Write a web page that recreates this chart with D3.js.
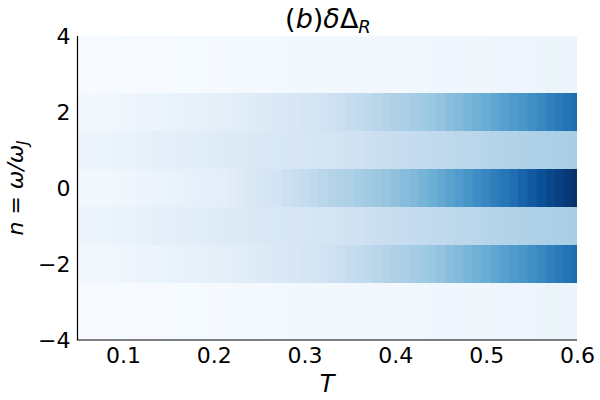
<!DOCTYPE html>
<html>
<head>
<meta charset="utf-8">
<script src="https://cdn.jsdelivr.net/npm/d3@7"></script>
<style>
  body { margin: 0; background: #fff; }
  text { font-family: "DejaVu Sans", sans-serif; }
</style>
</head>
<body>
<svg id="chart" width="600" height="400"></svg>
<script>
// temperature grid (cell centres)
var tValues = [0.05, 0.06, 0.07, 0.08, 0.09, 0.10, 0.11, 0.12, 0.13, 0.14,
  0.15, 0.16, 0.17, 0.18, 0.19, 0.20, 0.21, 0.22, 0.23, 0.24,
  0.25, 0.26, 0.27, 0.28, 0.29, 0.30, 0.31, 0.32, 0.33, 0.34,
  0.35, 0.36, 0.37, 0.38, 0.39, 0.40, 0.41, 0.42, 0.43, 0.44,
  0.45, 0.46, 0.47, 0.48, 0.49, 0.50, 0.51, 0.52, 0.53, 0.54,
  0.55, 0.56, 0.57, 0.58, 0.59, 0.60];

var nValues = [4, 3, 2, 1, 0, -1, -2, -3, -4];

// normalised intensity per row
var rowOuter = [0.000, 0.000, 0.001, 0.002, 0.002, 0.003, 0.004, 0.005, 0.005, 0.006,
  0.007, 0.008, 0.009, 0.010, 0.011, 0.012, 0.013, 0.014, 0.015, 0.016,
  0.017, 0.018, 0.019, 0.020, 0.021, 0.022, 0.023, 0.024, 0.025, 0.026,
  0.027, 0.028, 0.029, 0.030, 0.031, 0.032, 0.033, 0.034, 0.035, 0.036,
  0.037, 0.038, 0.039, 0.040, 0.041, 0.042, 0.043, 0.044, 0.045, 0.046,
  0.047, 0.048, 0.049, 0.050, 0.051, 0.052];

var rowOne = [0.050, 0.052, 0.056, 0.060, 0.064, 0.068, 0.072, 0.078, 0.084, 0.090,
  0.095, 0.100, 0.106, 0.111, 0.116, 0.121, 0.126, 0.131, 0.135, 0.139,
  0.143, 0.147, 0.151, 0.156, 0.161, 0.166, 0.171, 0.176, 0.181, 0.188,
  0.195, 0.202, 0.209, 0.216, 0.223, 0.230, 0.237, 0.244, 0.251, 0.258,
  0.264, 0.270, 0.276, 0.282, 0.288, 0.294, 0.300, 0.306, 0.311, 0.316,
  0.321, 0.326, 0.330, 0.334, 0.338, 0.342];

var rowTwo = [0.020, 0.022, 0.026, 0.030, 0.034, 0.038, 0.043, 0.048, 0.053, 0.059,
  0.065, 0.070, 0.075, 0.080, 0.086, 0.092, 0.098, 0.103, 0.110, 0.117,
  0.124, 0.131, 0.140, 0.149, 0.158, 0.168, 0.178, 0.190, 0.205, 0.220,
  0.235, 0.250, 0.270, 0.290, 0.305, 0.320, 0.335, 0.350, 0.362, 0.380,
  0.400, 0.425, 0.447, 0.470, 0.490, 0.510, 0.535, 0.560, 0.585, 0.605,
  0.630, 0.660, 0.690, 0.720, 0.745, 0.770];

var rowZero = [0.020, 0.020, 0.025, 0.030, 0.035, 0.040, 0.045, 0.050, 0.055, 0.060,
  0.065, 0.070, 0.077, 0.084, 0.091, 0.098, 0.105, 0.115, 0.125, 0.140,
  0.155, 0.170, 0.185, 0.205, 0.225, 0.245, 0.265, 0.285, 0.300, 0.315,
  0.330, 0.345, 0.360, 0.375, 0.390, 0.410, 0.430, 0.450, 0.475, 0.500,
  0.525, 0.550, 0.580, 0.610, 0.640, 0.670, 0.700, 0.730, 0.760, 0.800,
  0.840, 0.880, 0.910, 0.940, 0.970, 1.000];

var rowsByN = {
  "4": rowOuter, "3": rowOuter, "2": rowTwo, "1": rowOne, "0": rowZero,
  "-1": rowOne, "-2": rowTwo, "-3": rowOuter, "-4": rowOuter
};

var xTicks = [0.1, 0.2, 0.3, 0.4, 0.5, 0.6];
var yTicks = [-4, -2, 0, 2, 4];

var svg = d3.select("#chart");
var plotLeft = 77.5, plotRight = 577, plotTop = 36, plotBottom = 340;

var x = d3.scaleLinear().domain([0.05, 0.6]).range([plotLeft, plotRight]);
var y = d3.scaleLinear().domain([-4, 4]).range([plotBottom, plotTop]);
var color = d3.scaleSequential(d3.interpolateBlues).domain([0, 1]);

var step = 0.01;

svg.append("clipPath").attr("id", "plotClip")
  .append("rect")
  .attr("x", plotLeft).attr("y", plotTop)
  .attr("width", plotRight - plotLeft).attr("height", plotBottom - plotTop);

var cells = [];
nValues.forEach(function(n) {
  rowsByN[String(n)].forEach(function(v, i) {
    cells.push({n: n, t: tValues[i], v: v});
  });
});

svg.append("g").attr("clip-path", "url(#plotClip)")
  .selectAll("rect")
  .data(cells)
  .enter().append("rect")
  .attr("x", function(d) { return x(d.t - step / 2); })
  .attr("y", function(d) { return y(d.n + 0.5); })
  .attr("width", function(d) { return x(d.t + step / 2) - x(d.t - step / 2) + 0.6; })
  .attr("height", function(d) { return y(d.n - 0.5) - y(d.n + 0.5) + 0.6; })
  .attr("fill", function(d) { return color(d.v); });

// axes (no tick marks, only labels)
var xAxis = svg.append("g")
  .attr("transform", "translate(0," + plotBottom + ")")
  .call(d3.axisBottom(x).tickValues(xTicks).tickSize(0).tickPadding(7.5)
    .tickFormat(d3.format(".1f")));
xAxis.attr("font-size", 22).attr("font-family", "DejaVu Sans");
xAxis.select(".domain").remove();
xAxis.selectAll("text").attr("fill", "#000");

var yAxis = svg.append("g")
  .attr("transform", "translate(" + plotLeft + ",0)")
  .call(d3.axisLeft(y).tickValues(yTicks).tickSize(0).tickPadding(7));
yAxis.attr("font-size", 22).attr("font-family", "DejaVu Sans");
yAxis.select(".domain").remove();
yAxis.selectAll("text").attr("fill", "#000");

// frame: left and bottom spines
svg.append("path")
  .attr("d", "M" + plotLeft + "," + plotTop + "V" + plotBottom + "H" + plotRight)
  .attr("fill", "none")
  .attr("stroke", "#000")
  .attr("stroke-width", 1.2);

// title (b)δΔ_R
var title = svg.append("text")
  .attr("x", 328).attr("y", 28)
  .attr("text-anchor", "middle")
  .style("font-size", "27px");
title.append("tspan").text("(");
title.append("tspan").style("font-style", "italic").text("b");
title.append("tspan").text(")");
title.append("tspan").style("font-style", "italic").text("δ");
title.append("tspan").text("Δ");
title.append("tspan").style("font-style", "italic").style("font-size", "18px")
  .attr("dy", 5).text("R");

// x label
svg.append("text")
  .attr("x", 327).attr("y", 392)
  .attr("text-anchor", "middle")
  .style("font-size", "24px")
  .style("font-style", "italic")
  .text("T");

// y label n = ω/ω_J
var ylab = svg.append("text")
  .attr("transform", "translate(23,188) rotate(-90)")
  .attr("text-anchor", "middle")
  .style("font-size", "22px")
  .style("font-style", "italic");
ylab.append("tspan").text("n");
ylab.append("tspan").style("font-style", "normal").text(" = ");
ylab.append("tspan").text("ω/ω");
ylab.append("tspan").style("font-size", "15px").attr("dy", 5).text("J");
</script>
</body>
</html>
